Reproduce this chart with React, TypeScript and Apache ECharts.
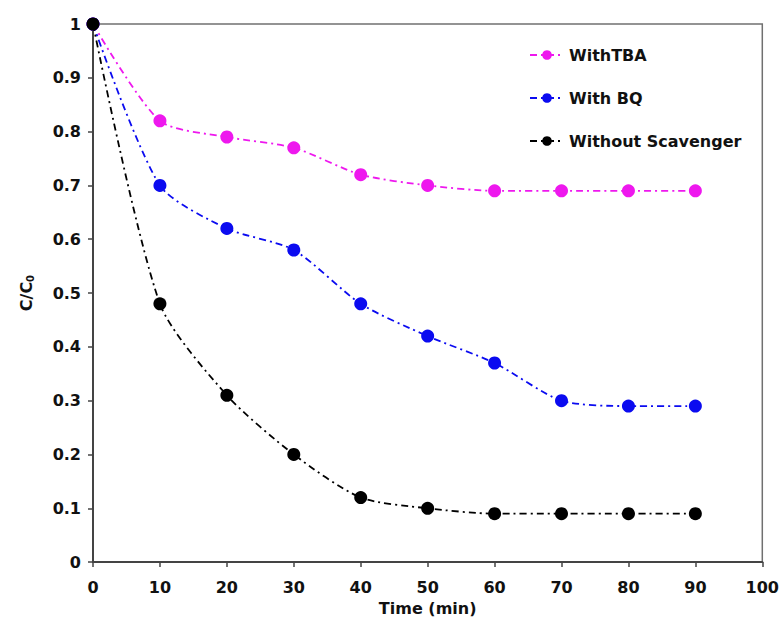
import React, { useEffect, useRef } from "react";
import * as echarts from "echarts";

const times = [0, 10, 20, 30, 40, 50, 60, 70, 80, 90];
const withTBA = [1, 0.82, 0.79, 0.77, 0.72, 0.7, 0.69, 0.69, 0.69, 0.69];
const withBQ = [1, 0.7, 0.62, 0.58, 0.48, 0.42, 0.37, 0.3, 0.29, 0.29];
const withoutScavenger = [1, 0.48, 0.31, 0.2, 0.12, 0.1, 0.09, 0.09, 0.09, 0.09];
const seriesNames = ["WithTBA", "With BQ", "Without Scavenger"];
const seriesColors = ["#ee18ee", "#0b0bf0", "#000000"];

export default function App() {
  const ref = useRef<HTMLDivElement>(null);
  useEffect(() => {
    const chart = echarts.init(ref.current!, null, { renderer: "svg" });
    const font = "'DejaVu Sans', Verdana, sans-serif";
    const datasets = [withTBA, withBQ, withoutScavenger];
    chart.setOption({
      animation: false,
      backgroundColor: "#fff",
      textStyle: { fontFamily: font },
      grid: {
        left: 93,
        right: 19,
        top: 24,
        bottom: 58,
        show: true,
        borderColor: "#707070",
        borderWidth: 1.5,
      },
      legend: {
        orient: "vertical",
        left: 524,
        top: 42,
        itemGap: 27,
        itemWidth: 34,
        itemHeight: 12,
        data: seriesNames,
        textStyle: { fontFamily: font, fontWeight: "bold", fontSize: 16, color: "#111" },
      },
      xAxis: {
        type: "value",
        min: 0,
        max: 100,
        interval: 10,
        name: "Time (min)",
        nameLocation: "middle",
        nameGap: 32,
        nameTextStyle: { fontFamily: font, fontWeight: "bold", fontSize: 16, color: "#111" },
        axisLine: { show: true, lineStyle: { color: "#444", width: 2 } },
        axisTick: { show: true, length: 5, lineStyle: { color: "#444", width: 1.5 } },
        axisLabel: { fontFamily: font, fontWeight: "bold", fontSize: 16, color: "#111", margin: 17 },
        splitLine: { show: false },
      },
      yAxis: {
        type: "value",
        min: 0,
        max: 1,
        interval: 0.1,
        name: "{a|C/C}{b|0}",
        nameLocation: "middle",
        nameGap: 58,
        nameRotate: 90,
        nameTextStyle: {
          rich: {
            a: { fontFamily: font, fontWeight: "bold", fontSize: 16, color: "#111" },
            b: { fontFamily: font, fontWeight: "bold", fontSize: 10, color: "#111", padding: [8, 0, 0, 0] },
          },
        },
        axisLine: { show: true, lineStyle: { color: "#444", width: 2 } },
        axisTick: { show: true, length: 5, lineStyle: { color: "#444", width: 1.5 } },
        axisLabel: {
          fontFamily: font,
          fontWeight: "bold",
          fontSize: 16,
          color: "#111",
          margin: 12,
          formatter: (v: number) => String(Math.round(v * 10) / 10),
        },
        splitLine: { show: false },
      },
      series: seriesNames.map((name, i) => ({
        name,
        type: "line",
        data: times.map((t, j) => [t, datasets[i][j]]),
        smooth: 0.25,
        symbol: "circle",
        symbolSize: 13,
        itemStyle: { color: seriesColors[i] },
        lineStyle: { color: seriesColors[i], width: 1.8, type: [7, 4, 2, 4] },
        z: 3 + i,
      })),
    });
    return () => chart.dispose();
  }, []);
  return <div ref={ref} style={{ width: 782, height: 621, position: "absolute", left: 0, top: 0 }} />;
}
